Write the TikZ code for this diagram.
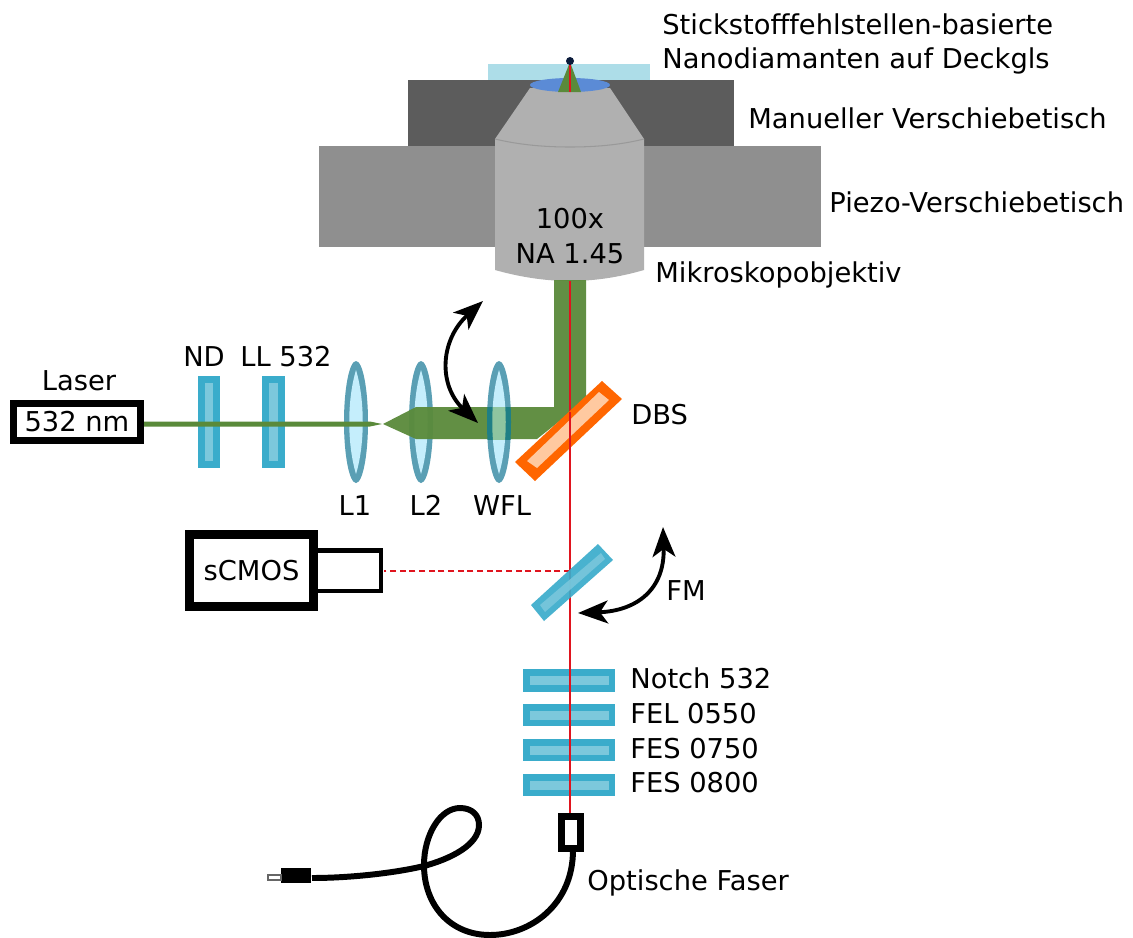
\documentclass[tikz,border=0pt]{standalone}
\usepackage{fontspec}
\setmainfont{DejaVu Sans}
\usetikzlibrary{arrows.meta}
\definecolor{beamgreen}{HTML}{5A8A3A}
\definecolor{beamred}{HTML}{E0141E}
\definecolor{filterblue}{HTML}{3AACCB}
\definecolor{filterlight}{HTML}{7CC8DC}
\definecolor{lensrim}{HTML}{5A9FB4}
\definecolor{lensglass}{HTML}{C5EEFC}
\definecolor{dbsorange}{HTML}{FF6600}
\definecolor{dbslight}{HTML}{FFC9A0}
\definecolor{slideblue}{HTML}{ADDDE8}
\definecolor{oilblue}{HTML}{5B8BD6}
\definecolor{dotnavy}{HTML}{0A1A3A}
\tikzset{
  lbl/.style={font=\fontsize{15.55}{18}\selectfont, inner sep=0pt},
  lblmid/.style={lbl, anchor=base},
  lblleft/.style={lbl, anchor=base west},
  filterbar/.style={fill=filterblue, draw=none},
  filtercore/.style={fill=filterlight, draw=none},
  redbeam/.style={beamred, line width=1.5pt},
  swingarrow/.style={line width=2.2pt, {Stealth[length=17pt,width=13pt,inset=4.5pt]}-{Stealth[length=17pt,width=13pt,inset=4.5pt]}},
  camerabox/.style={draw=black, fill=white, inner sep=0pt},
}
\begin{document}
\begin{tikzpicture}[x=0.02cm, y=-0.02cm]
\useasboundingbox (0,0) rectangle (1133,937);
% stages and slide
\fill[fill=white] (0,0) rectangle (1133,937);
\fill[fill=black!44] (319,146) rectangle (821,247);
\fill[fill=black!64] (408,80) rectangle (734,146);
\fill[fill=slideblue] (488,64) rectangle (650,80);
% objective
\fill[fill=black!31] (530,88) -- (610,88) -- (644,139) -- (644,270)
  .. controls (620,277) and (595,281) .. (570,281)
  .. controls (545,281) and (520,277) .. (495,270) -- (495,139) -- cycle;
\draw[black!40, line width=0.6pt] (495,139) .. controls (520,145) and (545,147) .. (570,147)
  .. controls (595,147) and (620,145) .. (644,139);
\fill[fill=oilblue] (570,85) ellipse (40 and 7);
\node[lblmid] (mag) at (570,228) {100x};
\node[lblmid] (na) at (570,263) {NA 1.45};
% lenses
\begin{scope}[shift={(356,0)}]
  \fill[fill=lensrim] (0,422) ellipse (12 and 61);
  \fill[fill=lensglass] (0,370) .. controls (9,400) and (9,444) .. (0,474) .. controls (-9,444) and (-9,400) .. cycle;
\end{scope}
\begin{scope}[shift={(421,0)}]
  \fill[fill=lensrim] (0,422) ellipse (12 and 61);
  \fill[fill=lensglass] (0,370) .. controls (9,400) and (9,444) .. (0,474) .. controls (-9,444) and (-9,400) .. cycle;
\end{scope}
\begin{scope}[shift={(499,0)}]
  \fill[fill=lensrim] (0,422) ellipse (12 and 61);
  \fill[fill=lensglass] (0,370) .. controls (9,400) and (9,444) .. (0,474) .. controls (-9,444) and (-9,400) .. cycle;
\end{scope}
% filters on the laser path
\fill[filterbar] (198,376) rectangle (220,468);
\fill[filtercore] (205,383) rectangle (213,461);
\fill[filterbar] (262,376) rectangle (285,468);
\fill[filtercore] (269,383) rectangle (278,461);
% green beam
\fill[fill=beamgreen] (140,421.5) -- (370,421.5) -- (382,424) -- (370,426.5) -- (140,426.5) -- cycle;
\fill[fill=beamgreen, fill opacity=0.95] (383,424) -- (416,407) -- (554,407) -- (554,280) -- (586,280)
  -- (586,400) -- (537,439) -- (416,439) -- cycle;
\fill[fill=beamgreen] (570,62) -- (581,92) -- (558,92) -- cycle;
\begin{scope}
  \clip (480,407) rectangle (520,439);
  \fill[fill={rgb,255:red,31;green,127;blue,133}] (499,422) ellipse (12 and 61);
  \fill[fill={rgb,255:red,143;green,197;blue,160}] (499,370) .. controls (508,400) and (508,444) .. (499,474) .. controls (490,444) and (490,400) .. cycle;
\end{scope}
% red beam and dot
\coordinate (beamtop) at (570,62);
\coordinate (camin) at (570,571);
\coordinate (camout) at (384,571);
\draw[redbeam] (beamtop) -- (570,92);
\draw[redbeam] (570,281) -- (570,814);
\draw[redbeam, dash pattern=on 3.5pt off 2pt] (camin) -- (camout);
\fill[fill=dotnavy] (570,61) circle (4);
% dichroic
\fill[fill=dbsorange] (602,381) -- (622,399) -- (535,481) -- (515,462) -- cycle;
\fill[fill=dbslight] (599,392) -- (609,400) -- (537,468) -- (527,461) -- cycle;
\draw[redbeam] (570,412) -- (570,452);
% flip mirror
\fill[filterbar, fill opacity=0.92] (598,544) -- (613,560) -- (544,621) -- (531,605) -- cycle;
\fill[filtercore, fill opacity=0.85] (601,553) -- (605,559) -- (545,612) -- (540,605) -- cycle;
% filter stack
\fill[filterbar] (523,669) rectangle (615,692);
\fill[filtercore] (530,676) rectangle (609,685);
\fill[filterbar] (523,704) rectangle (615,726);
\fill[filtercore] (530,711) rectangle (609,720);
\fill[filterbar] (523,739) rectangle (615,761);
\fill[filtercore] (530,746) rectangle (609,755);
\fill[filterbar] (523,774) rectangle (615,796);
\fill[filtercore] (530,781) rectangle (609,790);
\draw[redbeam] (570,665) -- (570,800);
% laser
\node[camerabox, lbl, draw, fill=white, line width=3.8pt, minimum width=72pt, minimum height=21pt] (laser) at (77,422) {532 nm};
% camera
\draw[black, fill=white, line width=2.5pt] (316,550.5) rectangle (381,591);
\node[camerabox, lbl, draw, fill=white, line width=5pt, minimum width=70.5pt, minimum height=41pt] (scmos) at (251.5,570.5) {sCMOS};
% fibre
\node[camerabox, line width=3.7pt, minimum width=11pt, minimum height=18pt] (coupler) at (571,832.5) {};
\fill[fill=black] (281,868) rectangle (311,883);
\draw[black!60, fill=white, line width=0.9pt] (268,875) rectangle (281,880);
\draw[black, line width=3.4pt] (573,850) .. controls (573,905) and (530,935) .. (490,935)
  .. controls (450,935) and (424,905) .. (424,865)
  .. controls (424,835) and (440,808) .. (460,808)
  .. controls (472,808) and (479,815) .. (479,825)
  .. controls (479,845) and (450,859) .. (424,866)
  .. controls (395,873) and (350,878) .. (312,878);
% swing arrows
\coordinate (wfltop) at (483,301);
\coordinate (wflbot) at (478,423);
\coordinate (fmtop) at (663,527);
\coordinate (fmbot) at (578,613);
\draw[swingarrow] (wfltop) .. controls (440,340) and (438,385) .. (wflbot);
\draw[swingarrow] (fmtop) .. controls (665,590) and (636,611) .. (fmbot);
% labels
\node[lblleft] (nvtop) at (662,34) {Stickstofffehlstellen-basierte};
\node[lblleft] (nvbot) at (662,68) {Nanodiamanten auf Deckgls};
\node[lblleft] (manual) at (748,128) {Manueller Verschiebetisch};
\node[lblleft] (piezo) at (829,212) {Piezo-Verschiebetisch};
\node[lblleft] (objective) at (655,282) {Mikroskopobjektiv};
\node[lblmid] (laserlbl) at (79,390) {Laser};
\node[lblmid] (ndlbl) at (204,366) {ND};
\node[lblmid] (lllbl) at (286,366) {LL 532};
\node[lblmid] (lonelbl) at (355,515) {L1};
\node[lblmid] (ltwolbl) at (426,515) {L2};
\node[lblmid] (wfllbl) at (502,515) {WFL};
\node[lblleft] (dbslbl) at (631,424) {DBS};
\node[lblleft] (fmlbl) at (666,600) {FM};
\node[lblleft] (notchlbl) at (630,688) {Notch 532};
\node[lblleft] (fellbl) at (630,723) {FEL 0550};
\node[lblleft] (fesalbl) at (630,758) {FES 0750};
\node[lblleft] (fesblbl) at (630,792) {FES 0800};
\node[lblleft] (fibrelbl) at (587,890) {Optische Faser};
\end{tikzpicture}
\end{document}
